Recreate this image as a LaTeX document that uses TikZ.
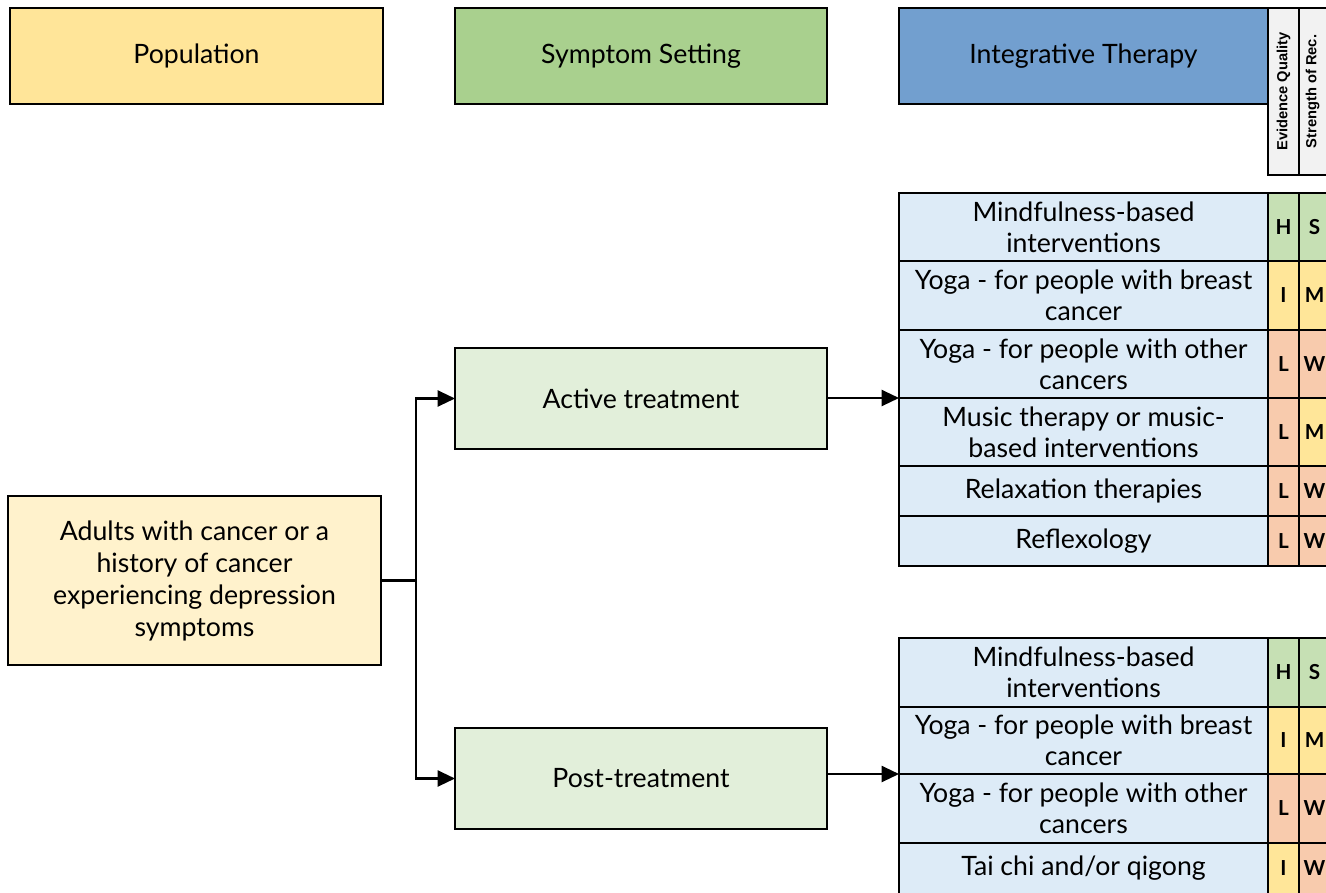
\documentclass[tikz,border=0pt]{standalone}
\usepackage{fontspec}
\setmainfont{Lato}
\newfontfamily\arialb{Liberation Sans}
\usetikzlibrary{arrows.meta}
\definecolor{popH}{HTML}{FFE599}
\definecolor{setH}{HTML}{A9D08E}
\definecolor{thH}{HTML}{729FCF}
\definecolor{adultC}{HTML}{FFF2CC}
\definecolor{setC}{HTML}{E2EFDA}
\definecolor{thC}{HTML}{DDEBF7}
\definecolor{grC}{HTML}{C6E0B4}
\definecolor{yeC}{HTML}{FFE699}
\definecolor{orC}{HTML}{F8CBAD}
\definecolor{hdC}{HTML}{F2F2F2}
\newcommand\bx[7]{\node[#6, minimum width={(#4-#2)*0.75pt}, minimum height={(#5-#3)*0.75pt}] (#1) at ({(#2+#4)/2},{(#3+#5)/2}) {#7};}
\newcommand\trow[8]{%
  \bx{#1}{899}{#2}{1268}{#3}{cell, fill=thC}{#4}
  \bx{#1e}{1268}{#2}{1299}{#3}{grade, fill=#5}{#6}
  \bx{#1s}{1299}{#2}{1330}{#3}{grade, fill=#7}{#8}}
\tikzset{
  box/.style={draw=black, line width=1.6pt, inner sep=0pt, outer sep=0pt, align=center, font=\fontsize{20}{24}\selectfont},
  cell/.style={box, font=\fontsize{20}{23.3}\selectfont},
  grade/.style={box, font=\fontsize{15.5}{18}\selectfont\bfseries},
  hd/.style={box, fill=hdC},
  arr/.style={line width=1.6pt, -{Triangle[length=13pt, width=12pt]}},
  ln/.style={line width=1.6pt}
}
\begin{document}
\begin{tikzpicture}[x=0.75pt, y=-0.75pt]
\useasboundingbox (0,0) rectangle (1326,892);
% headers
\bx{pop}{10}{8}{383}{104}{box, fill=popH}{Population}
\bx{set}{455}{8}{827}{104}{box, fill=setH}{Symptom Setting}
\bx{ther}{899}{8}{1268}{104}{box, fill=thH}{Integrative Therapy}
\bx{eq}{1268}{8}{1299}{175}{hd}{}
\bx{sr}{1299}{8}{1330}{175}{hd}{}
\node[rotate=90, font=\arialb\fontsize{11}{13}\selectfont\bfseries] (eqt) at (eq.center) {Evidence Quality};
\node[rotate=90, font=\arialb\fontsize{11}{13}\selectfont\bfseries] (srt) at ([xshift=-1.5pt]sr.center) {Strength of Rec.};
% population / settings
\bx{adults}{8}{496}{381}{665}{box, fill=adultC}{Adults with cancer or a\\history of cancer\\experiencing depression\\symptoms}
\bx{active}{455}{348}{827}{449}{box, fill=setC}{Active treatment}
\bx{post}{455}{728}{827}{829}{box, fill=setC}{Post-treatment}
% table 1
\trow{a1}{193}{261}{Mindfulness-based\\interventions}{grC}{H}{grC}{S}
\trow{a2}{261}{330}{Yoga - for people with breast\\cancer}{yeC}{I}{yeC}{M}
\trow{a3}{330}{398}{Yoga - for people with other\\cancers}{orC}{L}{orC}{W}
\trow{a4}{398}{466}{Music therapy or music-\\based interventions}{orC}{L}{yeC}{M}
\trow{a5}{466}{516}{Relaxation therapies}{orC}{L}{orC}{W}
\trow{a6}{516}{566}{Reflexology}{orC}{L}{orC}{W}
% table 2
\trow{p1}{638}{707}{Mindfulness-based\\interventions}{grC}{H}{grC}{S}
\trow{p2}{707}{774}{Yoga - for people with breast\\cancer}{yeC}{I}{yeC}{M}
\trow{p3}{774}{843}{Yoga - for people with other\\cancers}{orC}{L}{orC}{W}
\trow{p4}{843}{894}{Tai chi and/or qigong}{yeC}{I}{orC}{W}
% connectors
\coordinate (j) at (416,580.5);
\draw[ln] (adults.east) -- (j);
\draw[arr] (j) |- (active.west);
\draw[arr] (j) |- (post.west);
\draw[arr] (active.east |- a3.south west) -- (a3.south west);
\draw[arr] (post.east |- p2.south west) -- (p2.south west);
\end{tikzpicture}
\end{document}
